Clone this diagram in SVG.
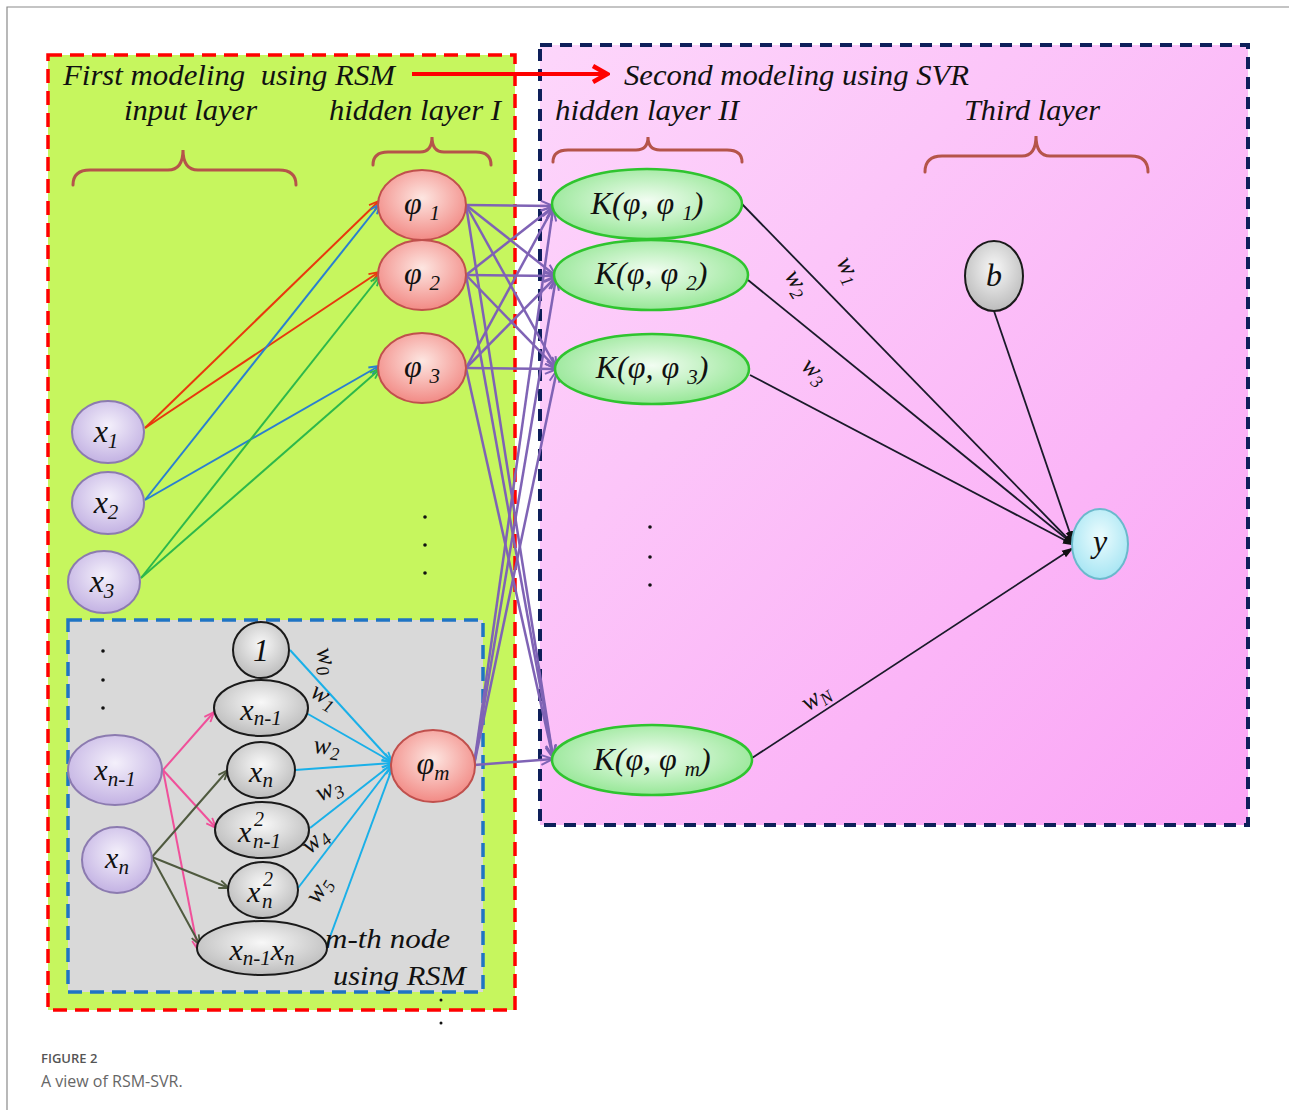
<svg xmlns="http://www.w3.org/2000/svg" width="1289" height="1110" viewBox="0 0 1289 1110">
<defs>
<style>
.t{font-family:"Liberation Serif","Times New Roman",serif;font-style:italic;fill:#111}
.title{font-size:30px}
.nt{font-size:32px}
.wl{font-size:26px}
.brace{fill:none;stroke:#b5544a;stroke-width:3;stroke-linecap:round}
.pl{stroke:#7f63b5;stroke-width:2.5;fill:none;marker-end:url(#aP)}
.bl{stroke:#1a1a2a;stroke-width:1.8;fill:none;marker-end:url(#aK)}
.cy{stroke:#1ab0e8;stroke-width:2;fill:none;marker-end:url(#aC)}
.pk{stroke:#f0509a;stroke-width:2;fill:none;marker-end:url(#aPk)}
.ol{stroke:#4f5a3f;stroke-width:2;fill:none;marker-end:url(#aO)}
.dot{fill:#111}
</style>
<linearGradient id="pinkBg" x1="0" y1="0" x2="1" y2="1">
<stop offset="0" stop-color="#fdd6fb"/><stop offset="1" stop-color="#faa4f5"/>
</linearGradient>
<radialGradient id="gPur" cx="50%" cy="40%" r="60%"><stop offset="0" stop-color="#f4f0fb"/><stop offset="1" stop-color="#c3b2e3"/></radialGradient>
<radialGradient id="gRed" cx="50%" cy="40%" r="60%"><stop offset="0" stop-color="#fde6e1"/><stop offset="1" stop-color="#f28a85"/></radialGradient>
<radialGradient id="gGrn" cx="50%" cy="45%" r="60%"><stop offset="0" stop-color="#f2fdf2"/><stop offset="1" stop-color="#8fe58f"/></radialGradient>
<radialGradient id="gGry" cx="50%" cy="40%" r="60%"><stop offset="0" stop-color="#f8f8f8"/><stop offset="1" stop-color="#bcbcbc"/></radialGradient>
<radialGradient id="gCyn" cx="50%" cy="40%" r="60%"><stop offset="0" stop-color="#ecfcfe"/><stop offset="1" stop-color="#a6e5f3"/></radialGradient>
<marker id="aR" viewBox="0 0 12 10" refX="11" refY="5" markerWidth="12" markerHeight="10" markerUnits="userSpaceOnUse" orient="auto"><path d="M1,1 L11,5 L1,9" fill="none" stroke="#e8380d" stroke-width="1.8"/></marker>
<marker id="aB" viewBox="0 0 12 10" refX="11" refY="5" markerWidth="12" markerHeight="10" markerUnits="userSpaceOnUse" orient="auto"><path d="M1,1 L11,5 L1,9" fill="none" stroke="#2a7fd0" stroke-width="1.8"/></marker>
<marker id="aG" viewBox="0 0 12 10" refX="11" refY="5" markerWidth="12" markerHeight="10" markerUnits="userSpaceOnUse" orient="auto"><path d="M1,1 L11,5 L1,9" fill="none" stroke="#2db84b" stroke-width="1.8"/></marker>
<marker id="aP" viewBox="0 0 14 12" refX="13" refY="6" markerWidth="14" markerHeight="12" markerUnits="userSpaceOnUse" orient="auto"><path d="M1,1 L13,6 L1,11" fill="none" stroke="#7f63b5" stroke-width="2"/></marker>
<marker id="aC" viewBox="0 0 12 10" refX="11" refY="5" markerWidth="12" markerHeight="10" markerUnits="userSpaceOnUse" orient="auto"><path d="M1,1 L11,5 L1,9" fill="none" stroke="#1ab0e8" stroke-width="1.8"/></marker>
<marker id="aPk" viewBox="0 0 12 10" refX="11" refY="5" markerWidth="12" markerHeight="10" markerUnits="userSpaceOnUse" orient="auto"><path d="M1,1 L11,5 L1,9" fill="none" stroke="#f0509a" stroke-width="1.8"/></marker>
<marker id="aO" viewBox="0 0 12 10" refX="11" refY="5" markerWidth="12" markerHeight="10" markerUnits="userSpaceOnUse" orient="auto"><path d="M1,1 L11,5 L1,9" fill="none" stroke="#4f5a3f" stroke-width="1.8"/></marker>
<marker id="aK" viewBox="0 0 12 10" refX="11" refY="5" markerWidth="12" markerHeight="10" markerUnits="userSpaceOnUse" orient="auto"><path d="M0,1 L12,5 L0,9 z" fill="#111"/></marker>
<marker id="aBig" viewBox="0 0 20 20" refX="17" refY="10" markerWidth="20" markerHeight="20" markerUnits="userSpaceOnUse" orient="auto"><path d="M3,2 L17,10 L3,18" fill="none" stroke="#ff0000" stroke-width="4.5" stroke-linejoin="miter"/></marker>
</defs>

<rect width="1289" height="1110" fill="#ffffff"/>
<path d="M7,1110 V7 H1289" fill="none" stroke="#8a8a8a" stroke-width="1.2"/>

<g id="panel-rsm">
<rect x="48" y="55" width="467" height="955" fill="#c6f65e" stroke="#ff0000" stroke-width="3.5" stroke-dasharray="14 8"/>
</g>
<g id="panel-svr">
<rect x="540" y="45" width="708" height="780" fill="url(#pinkBg)" stroke="#0e1f5a" stroke-width="4" stroke-dasharray="12 8"/>
</g>
<g id="panel-node">
<rect x="68" y="620" width="415" height="372" fill="#d9d9d9" stroke="#1f74c4" stroke-width="3.5" stroke-dasharray="14 8"/>
</g>

<g id="titles">
<text class="t title" x="63" y="85" textLength="332" lengthAdjust="spacingAndGlyphs">First modeling&#160; using RSM</text>
<text class="t title" x="624" y="85" textLength="345" lengthAdjust="spacingAndGlyphs">Second modeling using SVR</text>
<text class="t title" x="124" y="120" textLength="133" lengthAdjust="spacingAndGlyphs">input layer</text>
<text class="t title" x="329" y="120" textLength="172" lengthAdjust="spacingAndGlyphs">hidden layer I</text>
<text class="t title" x="555" y="120" textLength="184" lengthAdjust="spacingAndGlyphs">hidden layer II</text>
<text class="t title" x="964" y="120" textLength="136" lengthAdjust="spacingAndGlyphs">Third layer</text>
<path class="brace" d="M73,185 Q73,170 90,170 L168,170 Q183,170 183,150 Q183,170 198,170 L279,170 Q296,170 296,185"/>
<path class="brace" d="M373,165 Q373,152 388,152 L420,152 Q432,152 432,137 Q432,152 444,152 L476,152 Q491,152 491,165"/>
<path class="brace" d="M553,162 Q553,150 568,150 L636,150 Q648,150 648,137 Q648,150 660,150 L727,150 Q742,150 742,162"/>
<path class="brace" d="M925,172 Q925,156 942,156 L1022,156 Q1036,156 1036,136 Q1036,156 1050,156 L1131,156 Q1148,156 1148,172"/>
</g>

<g id="connectors">
<path d="M412,74 H607" fill="none" stroke="#ff0000" stroke-width="4" marker-end="url(#aBig)"/>
<path d="M145,428 L379,201" fill="none" stroke="#e8380d" stroke-width="2" marker-end="url(#aR)"/>
<path d="M145,428 L379,272" fill="none" stroke="#e8380d" stroke-width="2" marker-end="url(#aR)"/>
<path d="M145,500 L380,204" fill="none" stroke="#2a7fd0" stroke-width="2" marker-end="url(#aB)"/>
<path d="M145,500 L379,366" fill="none" stroke="#2a7fd0" stroke-width="2" marker-end="url(#aB)"/>
<path d="M141,578 L380,276" fill="none" stroke="#2db84b" stroke-width="2" marker-end="url(#aG)"/>
<path d="M141,578 L380,369" fill="none" stroke="#2db84b" stroke-width="2" marker-end="url(#aG)"/>

<path class="pl" d="M466,205 L553,206"/>
<path class="pl" d="M466,205 L556,276"/>
<path class="pl" d="M466,205 L557,369"/>
<path class="pl" d="M466,205 L553,757"/>
<path class="pl" d="M466,275 L553,207"/>
<path class="pl" d="M466,275 L556,276"/>
<path class="pl" d="M466,275 L557,369"/>
<path class="pl" d="M466,275 L553,757"/>
<path class="pl" d="M466,368 L553,208"/>
<path class="pl" d="M466,368 L556,277"/>
<path class="pl" d="M466,368 L557,369"/>
<path class="pl" d="M466,368 L553,758"/>
<path class="pl" d="M474,765 L553,209"/>
<path class="pl" d="M474,765 L556,278"/>
<path class="pl" d="M474,765 L557,370"/>
<path class="pl" d="M474,765 L553,759"/>

<path class="bl" d="M742,204 L1074,545"/>
<path class="bl" d="M748,280 L1074,545"/>
<path class="bl" d="M750,375 L1074,545"/>
<path class="bl" d="M994,311 L1073,542"/>
<path class="bl" d="M752,758 L1073,548"/>

<path class="cy" d="M290,650 L392,762"/>
<path class="cy" d="M308,714 L392,762"/>
<path class="cy" d="M295,770 L392,763"/>
<path class="cy" d="M310,828 L392,764"/>
<path class="cy" d="M298,888 L392,765"/>
<path class="cy" d="M327,945 L393,766"/>

<path class="pk" d="M163,770 L214,712"/>
<path class="pk" d="M163,770 L216,828"/>
<path class="pk" d="M163,770 L198,950"/>
<path class="ol" d="M152,857 L228,770"/>
<path class="ol" d="M152,857 L229,888"/>
<path class="ol" d="M152,857 L200,945"/>
</g>

<g id="weights">
<text class="t wl" transform="translate(316,650) rotate(75)">w<tspan font-size="18" dy="5">0</tspan></text>
<text class="t wl" transform="translate(309,696) rotate(30)">w<tspan font-size="18" dy="5">1</tspan></text>
<text class="t wl" transform="translate(313,753) rotate(5)">w<tspan font-size="18" dy="5">2</tspan></text>
<text class="t wl" transform="translate(320,802) rotate(-25)">w<tspan font-size="18" dy="5">3</tspan></text>
<text class="t wl" transform="translate(310,855) rotate(-42)">w<tspan font-size="18" dy="5">4</tspan></text>
<text class="t wl" transform="translate(318,905) rotate(-58)">w<tspan font-size="18" dy="5">5</tspan></text>
<text class="t wl" transform="translate(836,262) rotate(62)">w<tspan font-size="18" dy="5">1</tspan></text>
<text class="t wl" transform="translate(784,276) rotate(58)">w<tspan font-size="18" dy="5">2</tspan></text>
<text class="t wl" transform="translate(800,368) rotate(42)">w<tspan font-size="18" dy="5">3</tspan></text>
<text class="t wl" transform="translate(808,712) rotate(-35)">w<tspan font-size="18" dy="5">N</tspan></text>
</g>

<g id="node-x1"><ellipse cx="108" cy="432" rx="36" ry="31" fill="url(#gPur)" stroke="#8c7bb0" stroke-width="2"/><text class="t nt" x="106" y="442" text-anchor="middle">x<tspan font-size="21" dy="6">1</tspan></text></g>
<g id="node-x2"><ellipse cx="108" cy="503" rx="36" ry="31" fill="url(#gPur)" stroke="#8c7bb0" stroke-width="2"/><text class="t nt" x="106" y="513" text-anchor="middle">x<tspan font-size="21" dy="6">2</tspan></text></g>
<g id="node-x3"><ellipse cx="104" cy="582" rx="36" ry="31" fill="url(#gPur)" stroke="#8c7bb0" stroke-width="2"/><text class="t nt" x="102" y="592" text-anchor="middle">x<tspan font-size="21" dy="6">3</tspan></text></g>

<g id="node-phi1"><ellipse cx="422" cy="205" rx="44" ry="35" fill="url(#gRed)" stroke="#c0504d" stroke-width="2"/><text class="t nt" x="422" y="214" text-anchor="middle">φ <tspan font-size="21" dy="6">1</tspan></text></g>
<g id="node-phi2"><ellipse cx="422" cy="275" rx="44" ry="35" fill="url(#gRed)" stroke="#c0504d" stroke-width="2"/><text class="t nt" x="422" y="284" text-anchor="middle">φ <tspan font-size="21" dy="6">2</tspan></text></g>
<g id="node-phi3"><ellipse cx="422" cy="368" rx="44" ry="35" fill="url(#gRed)" stroke="#c0504d" stroke-width="2"/><text class="t nt" x="422" y="377" text-anchor="middle">φ <tspan font-size="21" dy="6">3</tspan></text></g>
<g id="node-phim"><ellipse cx="433" cy="766" rx="42" ry="36" fill="url(#gRed)" stroke="#c0504d" stroke-width="2"/><text class="t nt" x="433" y="774" text-anchor="middle">φ<tspan font-size="21" dy="6">m</tspan></text></g>

<g id="node-k1"><ellipse cx="647" cy="204" rx="95" ry="35" fill="url(#gGrn)" stroke="#2fc42f" stroke-width="2.5"/><text class="t nt" x="647" y="214" text-anchor="middle">K(φ, φ <tspan font-size="21" dy="6">1</tspan><tspan dy="-6">)</tspan></text></g>
<g id="node-k2"><ellipse cx="651" cy="275" rx="97" ry="35" fill="url(#gGrn)" stroke="#2fc42f" stroke-width="2.5"/><text class="t nt" x="651" y="284" text-anchor="middle">K(φ, φ <tspan font-size="21" dy="6">2</tspan><tspan dy="-6">)</tspan></text></g>
<g id="node-k3"><ellipse cx="652" cy="369" rx="97" ry="35" fill="url(#gGrn)" stroke="#2fc42f" stroke-width="2.5"/><text class="t nt" x="652" y="378" text-anchor="middle">K(φ, φ <tspan font-size="21" dy="6">3</tspan><tspan dy="-6">)</tspan></text></g>
<g id="node-km"><ellipse cx="652" cy="760" rx="100" ry="35" fill="url(#gGrn)" stroke="#2fc42f" stroke-width="2.5"/><text class="t nt" x="652" y="770" text-anchor="middle">K(φ, φ <tspan font-size="21" dy="6">m</tspan><tspan dy="-6">)</tspan></text></g>

<g id="node-b"><ellipse cx="994" cy="276" rx="29" ry="35" fill="url(#gGry)" stroke="#1a1a1a" stroke-width="2"/><text class="t nt" x="994" y="286" text-anchor="middle">b</text></g>
<g id="node-y"><ellipse cx="1100" cy="544" rx="28" ry="35" fill="url(#gCyn)" stroke="#6bb9cc" stroke-width="2"/><text class="t nt" x="1100" y="552" text-anchor="middle">y</text></g>

<g id="node-xn1-in"><ellipse cx="115" cy="770" rx="47" ry="35" fill="url(#gPur)" stroke="#8c7bb0" stroke-width="2"/><text class="t" font-size="30" x="115" y="780" text-anchor="middle">x<tspan font-size="21" dy="6">n-1</tspan></text></g>
<g id="node-xn-in"><ellipse cx="117" cy="860" rx="35" ry="33" fill="url(#gPur)" stroke="#8c7bb0" stroke-width="2"/><text class="t" font-size="30" x="117" y="868" text-anchor="middle">x<tspan font-size="21" dy="6">n</tspan></text></g>
<g id="node-one"><ellipse cx="261" cy="650" rx="28" ry="28" fill="url(#gGry)" stroke="#1a1a1a" stroke-width="2"/><text class="t nt" x="261" y="661" text-anchor="middle">1</text></g>
<g id="node-xn1"><ellipse cx="261" cy="708" rx="47" ry="28" fill="url(#gGry)" stroke="#1a1a1a" stroke-width="2"/><text class="t" font-size="30" x="261" y="720" text-anchor="middle">x<tspan font-size="21" dy="5">n-1</tspan></text></g>
<g id="node-xn"><ellipse cx="261" cy="770" rx="34" ry="28" fill="url(#gGry)" stroke="#1a1a1a" stroke-width="2"/><text class="t" font-size="30" x="261" y="782" text-anchor="middle">x<tspan font-size="21" dy="5">n</tspan></text></g>
<g id="node-xn1sq"><ellipse cx="262" cy="830" rx="47" ry="28" fill="url(#gGry)" stroke="#1a1a1a" stroke-width="2"/><text class="t" font-size="30" x="238" y="842">x</text><text class="t" font-size="20" x="254" y="826">2</text><text class="t" font-size="21" x="253" y="848">n-1</text></g>
<g id="node-xnsq"><ellipse cx="263" cy="890" rx="35" ry="28" fill="url(#gGry)" stroke="#1a1a1a" stroke-width="2"/><text class="t" font-size="30" x="247" y="902">x</text><text class="t" font-size="20" x="263" y="886">2</text><text class="t" font-size="21" x="262" y="908">n</text></g>
<g id="node-xn1xn"><ellipse cx="262" cy="948" rx="65" ry="27" fill="url(#gGry)" stroke="#1a1a1a" stroke-width="2"/><text class="t" font-size="30" x="262" y="960" text-anchor="middle">x<tspan font-size="21" dy="5">n-1</tspan><tspan dy="-5">x</tspan><tspan font-size="21" dy="5">n</tspan></text></g>

<g id="labels">
<text class="t" font-size="28" x="325" y="948" textLength="125" lengthAdjust="spacingAndGlyphs">m-th node</text>
<text class="t" font-size="28" x="333" y="985" textLength="133" lengthAdjust="spacingAndGlyphs">using RSM</text>
</g>

<g id="dots">
<circle class="dot" cx="103" cy="651" r="1.8"/><circle class="dot" cx="103" cy="680" r="1.8"/><circle class="dot" cx="103" cy="708" r="1.8"/>
<circle class="dot" cx="425" cy="517" r="1.8"/><circle class="dot" cx="425" cy="545" r="1.8"/><circle class="dot" cx="425" cy="573" r="1.8"/>
<circle class="dot" cx="650" cy="527" r="1.8"/><circle class="dot" cx="650" cy="557" r="1.8"/><circle class="dot" cx="650" cy="585" r="1.8"/>
<circle class="dot" cx="441" cy="1000" r="1.5"/><circle class="dot" cx="441" cy="1023" r="1.5"/>
</g>

<g id="caption">
<text x="41" y="1063" font-family="'Open Sans','Noto Sans',sans-serif" font-size="13" font-weight="600" fill="#555">FIGURE 2</text>
<text x="41" y="1087" font-family="'Open Sans','Noto Sans',sans-serif" font-size="16" fill="#666">A view of RSM-SVR.</text>
</g>
</svg>
